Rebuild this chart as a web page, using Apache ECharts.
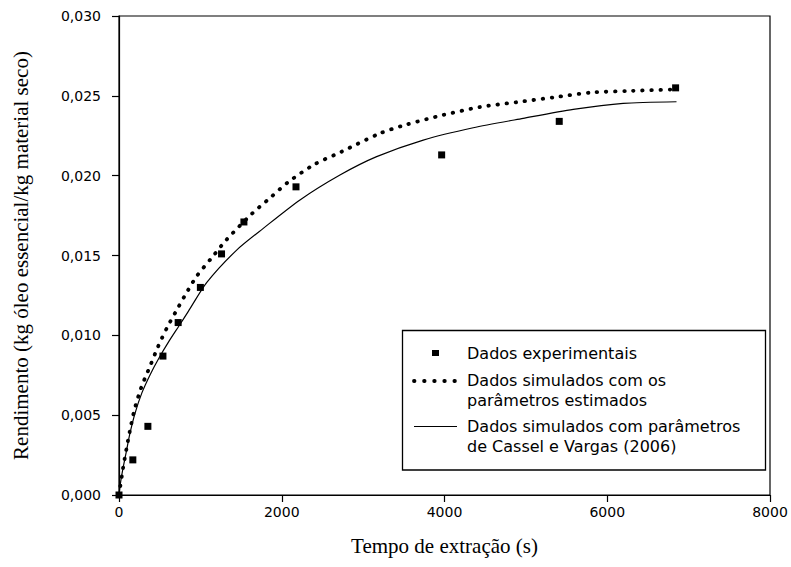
<!DOCTYPE html>
<html>
<head>
<meta charset="utf-8">
<script src="https://cdn.jsdelivr.net/npm/echarts@6/dist/echarts.min.js"></script>
<style>
html,body{margin:0;padding:0;background:#fff;}
#chart{width:791px;height:567px;}
</style>
</head>
<body>
<div id="chart"></div>
<script>
// ---- data ----
const seriesNames = [
  'Dados experimentais',
  'Dados simulados com os\nparâmetros estimados',
  'Dados simulados com parâmetros\nde Cassel e Vargas (2006)'
];
const xTitle = 'Tempo de extração (s)';
const yTitle = 'Rendimento (kg óleo essencial/kg material seco)';

const timeExp  = [0, 170, 355, 540, 727, 1000, 1260, 1535, 2175, 3965, 5410, 6840];
const yieldExp = [0.0000, 0.0022, 0.0043, 0.0087, 0.0108, 0.0130, 0.0151, 0.0171, 0.0193, 0.0213, 0.0234, 0.0255];

const timeEst  = [0, 50, 92, 133, 188, 271, 384, 480, 592, 700, 811, 954, 1130, 1323, 1630, 1855, 2080, 2400, 2736, 3206, 3534, 3985, 4435, 4885, 5335, 5786, 6237, 6810];
const yieldEst = [0, 0.0017, 0.0029, 0.0040, 0.0053, 0.0067, 0.0081, 0.0093, 0.0105, 0.0115, 0.0125, 0.0137, 0.0148, 0.0160, 0.0176, 0.0186, 0.0196, 0.0207, 0.0215, 0.02265, 0.0232, 0.0238, 0.0243, 0.0246, 0.0249, 0.0252, 0.0253, 0.0254];

const timeCV  = [0, 21, 50, 92, 133, 196, 280, 384, 488, 613, 738, 852, 1077, 1446, 1773, 2224, 2715, 3166, 3739, 4353, 4967, 5582, 6196, 6851];
const yieldCV = [0, 0.00085, 0.0017, 0.00277, 0.00383, 0.0051, 0.00638, 0.00755, 0.00855, 0.00962, 0.0106, 0.0115, 0.0133, 0.01534, 0.0167, 0.01848, 0.02004, 0.02119, 0.02223, 0.0230, 0.02359, 0.02415, 0.02453, 0.02463];

const xTicks = [0, 2000, 4000, 6000, 8000];
const yTicks = [0, 0.005, 0.010, 0.015, 0.020, 0.025, 0.030];

// ---- chart ----
const zip = (a, b) => a.map((v, i) => [v, b[i]]);
const chart = echarts.init(document.getElementById('chart'), null, {renderer: 'svg'});

const tickFont = {fontFamily: 'DejaVu Sans', fontSize: 14, color: '#000'};
const titleFont = {fontFamily: 'Liberation Serif', fontSize: 21, color: '#000'};
const legFont = 'DejaVu Sans';

chart.setOption({
  animation: false,
  backgroundColor: '#fff',
  grid: {left: 119, right: 21, top: 16, bottom: 72, show: true, borderColor: '#000', borderWidth: 1.2, backgroundColor: 'transparent'},
  xAxis: {
    type: 'value', min: xTicks[0], max: xTicks[xTicks.length - 1], interval: xTicks[1] - xTicks[0],
    name: xTitle, nameLocation: 'middle', nameGap: 40, nameTextStyle: titleFont,
    axisLine: {show: true, lineStyle: {color: '#000', width: 1.2}},
    axisTick: {show: true, inside: false, length: 7, lineStyle: {color: '#000', width: 1.2}},
    axisLabel: Object.assign({margin: 10, formatter: v => String(v)}, tickFont),
    splitLine: {show: false}
  },
  yAxis: {
    type: 'value', min: yTicks[0], max: yTicks[yTicks.length - 1], interval: yTicks[1] - yTicks[0],
    name: yTitle, nameLocation: 'middle', nameGap: 88, nameRotate: 90, nameTextStyle: titleFont,
    axisLine: {show: true, lineStyle: {color: '#000', width: 1.2}},
    axisTick: {show: true, inside: false, length: 7, lineStyle: {color: '#000', width: 1.2}},
    axisLabel: Object.assign({margin: 18, formatter: v => v.toFixed(3).replace('.', ',')}, tickFont),
    splitLine: {show: false}
  },
  series: [
    {
      name: seriesNames[2], type: 'line', data: zip(timeCV, yieldCV),
      showSymbol: false, smooth: 0.25,
      lineStyle: {color: '#000', width: 1.2}, z: 2
    },
    {
      name: seriesNames[1], type: 'line', data: zip(timeEst, yieldEst),
      showSymbol: false, smooth: 0.25,
      lineStyle: {color: '#000', width: 3.8, type: [0.5, 8.6], cap: 'round'}, z: 3
    },
    {
      name: seriesNames[0], type: 'scatter', data: zip(timeExp, yieldExp),
      symbol: 'rect', symbolSize: 7, itemStyle: {color: '#000', opacity: 1}, z: 4
    }
  ],
  graphic: [
    {type: 'rect', shape: {x: 402.5, y: 330.5, width: 363, height: 139.5}, style: {fill: '#fff', stroke: '#000', lineWidth: 1.3}, z: 10},
    {type: 'rect', shape: {x: 432, y: 350, width: 7, height: 6}, style: {fill: '#000'}, z: 11},
    {type: 'line', shape: {x1: 414, y1: 381, x2: 456, y2: 381}, style: {stroke: '#000', lineWidth: 3.8, lineDash: [0.5, 9.6], lineCap: 'round'}, z: 11},
    {type: 'line', shape: {x1: 414, y1: 426.5, x2: 457, y2: 426.5}, style: {stroke: '#000', lineWidth: 1.2}, z: 11},
    {type: 'text', x: 467, y: 343, style: {text: seriesNames[0], fontFamily: legFont, fontSize: 16, fill: '#000', lineHeight: 20.5, textVerticalAlign: 'top'}, z: 11},
    {type: 'text', x: 467, y: 370, style: {text: seriesNames[1], fontFamily: legFont, fontSize: 16, fill: '#000', lineHeight: 20.5, textVerticalAlign: 'top'}, z: 11},
    {type: 'text', x: 467, y: 416, style: {text: seriesNames[2], fontFamily: legFont, fontSize: 16, fill: '#000', lineHeight: 20.5, textVerticalAlign: 'top'}, z: 11}
  ]
});
</script>
</body>
</html>
